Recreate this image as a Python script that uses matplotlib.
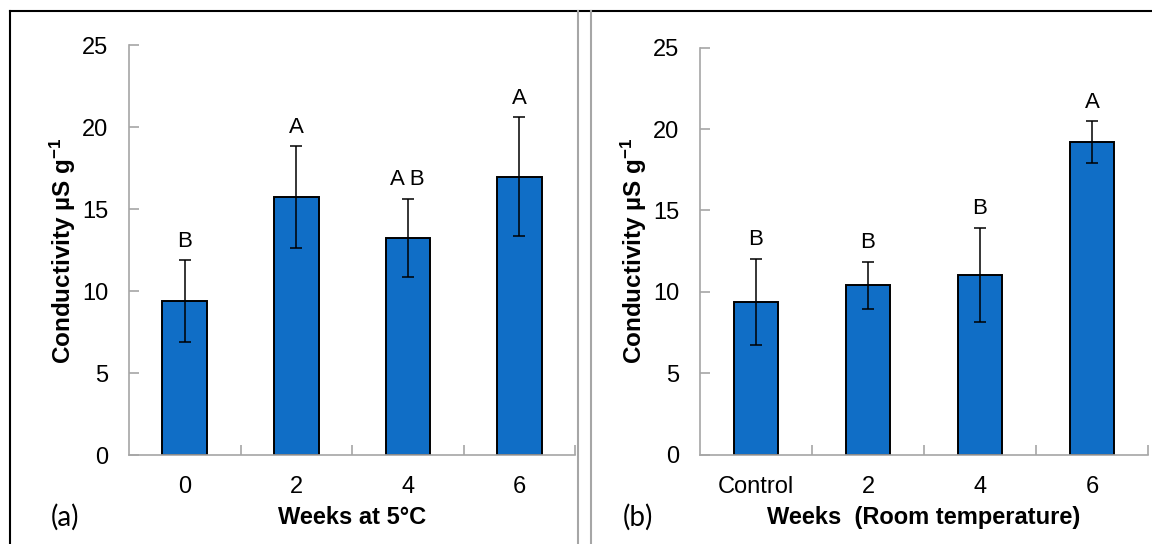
import matplotlib
matplotlib.use('Agg')
import matplotlib.pyplot as plt
from matplotlib.lines import Line2D

plt.rcParams['font.family'] = 'Liberation Sans'
plt.rcParams['mathtext.default'] = 'regular'

# conductivity after storage at 5 °C
weeks_cold = ['0', '2', '4', '6']
cond_cold = [9.4, 15.75, 13.25, 17.0]
err_cold = [2.5, 3.1, 2.4, 3.6]
letters_cold = ['B', 'A', 'A B', 'A']

# conductivity after storage at room temperature
weeks_room = ['Control', '2', '4', '6']
cond_room = [9.4, 10.4, 11.05, 19.2]
err_room = [2.65, 1.45, 2.9, 1.3]
letters_room = ['B', 'B', 'B', 'A']

BAR_COLOR = '#106EC6'
AXIS_GRAY = '#A6A6A6'

fig = plt.figure(figsize=(11.52, 5.44), dpi=100)
ax_a = fig.add_axes([0.1120, 0.1630, 0.3872, 0.7537])
ax_b = fig.add_axes([0.6076, 0.1642, 0.3889, 0.7481])


def draw_panel(ax, cats, vals, errs, letters, xlabel):
    x = list(range(len(cats)))
    ax.bar(x, vals, width=0.40, color=BAR_COLOR, edgecolor='black',
           linewidth=1.4, zorder=2)
    ax.errorbar(x, vals, yerr=errs, fmt='none', ecolor='black',
                elinewidth=1.1, capsize=4, capthick=1.1, zorder=3)
    for xi, v, e, lab in zip(x, vals, errs, letters):
        ax.annotate(lab, (xi, v + e), xytext=(0, 6), textcoords='offset points',
                    ha='center', va='bottom', fontsize=16)

    ax.set_xlim(-0.5, len(cats) - 0.5)
    ax.set_ylim(0, 25)
    ax.set_yticks([0, 5, 10, 15, 20, 25])
    ax.set_xticks(x)
    ax.set_xticklabels(cats)
    ax.set_xticks([i + 0.5 for i in x], minor=True)
    ax.tick_params(axis='x', which='major', length=0, pad=15, labelsize=17)
    ax.tick_params(axis='x', which='minor', direction='in', length=7,
                   color=AXIS_GRAY, width=1.2)
    ax.tick_params(axis='y', direction='in', length=7, color=AXIS_GRAY,
                   width=1.2, pad=15, labelsize=17)

    for side in ('top', 'right'):
        ax.spines[side].set_visible(False)
    for side in ('left', 'bottom'):
        ax.spines[side].set_color(AXIS_GRAY)
        ax.spines[side].set_linewidth(1.2)

    ax.set_ylabel('Conductivity µS g$^{-1}$', fontweight='bold', fontsize=17.5, labelpad=3)
    ax.set_xlabel(xlabel, fontweight='bold', fontsize=17, labelpad=6)


draw_panel(ax_a, weeks_cold, cond_cold, err_cold, letters_cold, 'Weeks at 5°C')
draw_panel(ax_b, weeks_room, cond_room, err_room, letters_room, 'Weeks  (Room temperature)')

fig.text(51 / 1152, 1 - 517 / 544, '(a)', fontsize=20, family='Lato', va='center')
fig.text(623 / 1152, 1 - 517 / 544, '(b)', fontsize=20, family='Lato', va='center')

# panel frames
top = 1 - 11 / 544
fig.add_artist(Line2D([10 / 1152, 1], [top, top], transform=fig.transFigure,
                      color='black', linewidth=1.5))
fig.add_artist(Line2D([10 / 1152, 10 / 1152], [0, top], transform=fig.transFigure,
                      color='black', linewidth=1.5))
for xf in (578 / 1152, 591 / 1152):
    fig.add_artist(Line2D([xf, xf], [0, top], transform=fig.transFigure,
                          color=AXIS_GRAY, linewidth=1.5))

fig.savefig('out.png', dpi=100)
